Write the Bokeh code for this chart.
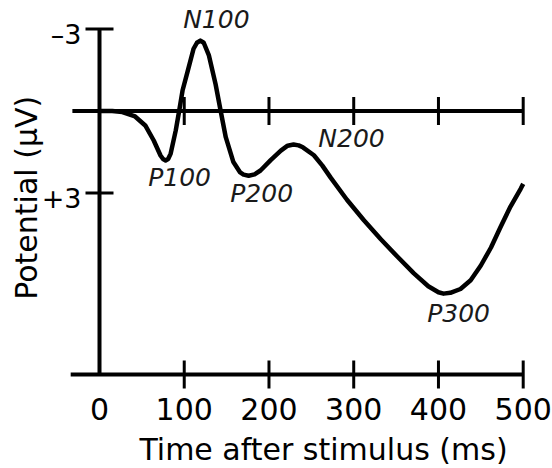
import math
from bokeh.plotting import figure
from bokeh.models import Range1d, ColumnDataSource
from bokeh.core.properties import value
from bokeh.embed import file_html
from bokeh.resources import INLINE

# ---------------- data ----------------
time_ms = [0, 15, 27, 42, 54, 64, 72, 75, 78, 81,
           84, 90, 94, 98, 104, 111, 115, 119, 123, 129,
           137, 143, 149, 158, 166, 170, 176, 183, 190, 202,
           214, 222, 229, 235, 240, 253, 263, 273, 292, 312,
           332, 352, 371, 388, 400, 406, 414, 426, 438, 450,
           462, 473, 485, 497, 500]
potential_uv = [0, 0, 0.04, 0.2, 0.53, 1.08, 1.63, 1.76, 1.81, 1.76,
                1.56, 0.71, 0, -0.75, -1.45, -2.28, -2.5, -2.58, -2.5, -2.05,
                -0.98, 0, 0.96, 1.87, 2.25, 2.33, 2.37, 2.32, 2.18, 1.8,
                1.45, 1.27, 1.23, 1.26, 1.33, 1.62, 2.0, 2.45, 3.25, 4.0,
                4.7, 5.35, 5.95, 6.42, 6.64, 6.69, 6.66, 6.52, 6.2, 5.66,
                5.0, 4.27, 3.5, 2.85, 2.67]

x_ticks = [0, 100, 200, 300, 400, 500]
x_tick_labels = ["0", "100", "200", "300", "400", "500"]
y_ticks = [-3, 3]
y_tick_labels = ["\u20133", "+3"]

component_names = ["P100", "N100", "P200", "N200", "P300"]
component_time = [78, 119, 176, 229, 406]
component_uv = [1.81, -2.58, 2.37, 1.23, 6.69]

x_title = "Time after stimulus (ms)"
y_title = "Potential (\u00b5V)"

# ---------------- layout (pixels / styling) ----------------
W, H = 552, 468
X0_PX, PX_PER_MS = 99.0, 0.8474
Y0_PX, PX_PER_UV = 110.5, 27.3
AXIS_BOTTOM_UV = (374 - Y0_PX) / PX_PER_UV
AXIS_LEFT_MS = -34
ZERO_LEFT_MS = -32
TITLE_CENTER_MS = (323 - X0_PX) / PX_PER_MS

label_dx = [14, 16, 13, 58, 15]
label_dy = [17, -21, 18, -6, 20]

FONT = "DejaVu Sans"
LW_AXIS = 4
LW_TICK = 3
TICK_SIZE = 28

x_range = Range1d(-X0_PX / PX_PER_MS, (W - X0_PX) / PX_PER_MS)
y_range = Range1d((H - Y0_PX) / PX_PER_UV, -Y0_PX / PX_PER_UV)

p = figure(width=W, height=H, x_range=x_range, y_range=y_range,
           output_backend="svg", toolbar_location=None,
           x_axis_location=None, y_axis_location=None,
           min_border_left=0, min_border_right=0, min_border_top=0,
           min_border_bottom=0)
p.grid.visible = False
p.outline_line_color = None
p.background_fill_color = "white"
p.border_fill_color = "white"

# ---- time axis (bottom): line, ticks, tick labels, title ----
p.line(x=[AXIS_LEFT_MS, x_ticks[-1]], y=[AXIS_BOTTOM_UV, AXIS_BOTTOM_UV],
       line_color="black", line_width=LW_AXIS)
p.scatter(x=x_ticks[1:], y=[AXIS_BOTTOM_UV] * (len(x_ticks) - 1), marker="dash",
          size=TICK_SIZE, angle=math.pi / 2, line_color="black", line_width=LW_TICK)
p.text(x=x_ticks, y=[AXIS_BOTTOM_UV] * len(x_ticks), text=x_tick_labels,
       y_offset=34, text_align="center", text_baseline="middle",
       text_font=value(FONT), text_font_size="30px", text_color="black")
p.text(x=[TITLE_CENTER_MS], y=[AXIS_BOTTOM_UV], text=[x_title],
       y_offset=75, text_align="center", text_baseline="middle",
       text_font=value(FONT), text_font_size="30px", text_color="black")

# ---- zero line with ticks ----
p.line(x=[ZERO_LEFT_MS, x_ticks[-1]], y=[0, 0], line_color="black", line_width=LW_AXIS)
p.scatter(x=x_ticks[1:], y=[0] * (len(x_ticks) - 1), marker="dash",
          size=TICK_SIZE, angle=math.pi / 2, line_color="black", line_width=LW_TICK)

# ---- potential axis: line, ticks, labels, title ----
p.line(x=[0, 0], y=[y_ticks[0], AXIS_BOTTOM_UV], line_color="black", line_width=LW_AXIS)
p.scatter(x=[0] * len(y_ticks), y=y_ticks, marker="dash", size=TICK_SIZE,
          line_color="black", line_width=LW_TICK)
p.text(x=[0] * len(y_ticks), y=y_ticks, text=y_tick_labels,
       x_offset=-18, y_offset=5, text_align="right", text_baseline="middle",
       text_font=value(FONT), text_font_size="27px", text_color="black")
p.text(x=[0], y=[(y_ticks[0] + AXIS_BOTTOM_UV) / 2], text=[y_title],
       x_offset=-73, y_offset=-4, angle=math.pi / 2,
       text_align="center", text_baseline="middle",
       text_font=value(FONT), text_font_size="30px", text_color="black")

# ---- ERP waveform ----
p.line(x=time_ms, y=potential_uv, line_color="black", line_width=4.5,
       line_join="round", line_cap="butt")

# ---- component labels ----
src = ColumnDataSource(dict(x=component_time, y=component_uv, t=component_names,
                            dx=label_dx, dy=label_dy))
p.text(x="x", y="y", text="t", x_offset="dx", y_offset="dy", source=src,
       text_align="center", text_baseline="middle",
       text_font=value(FONT), text_font_size="25px", text_font_style="italic",
       text_color="#1a1a1a")

open("out.html", "w").write(file_html(p, INLINE))
